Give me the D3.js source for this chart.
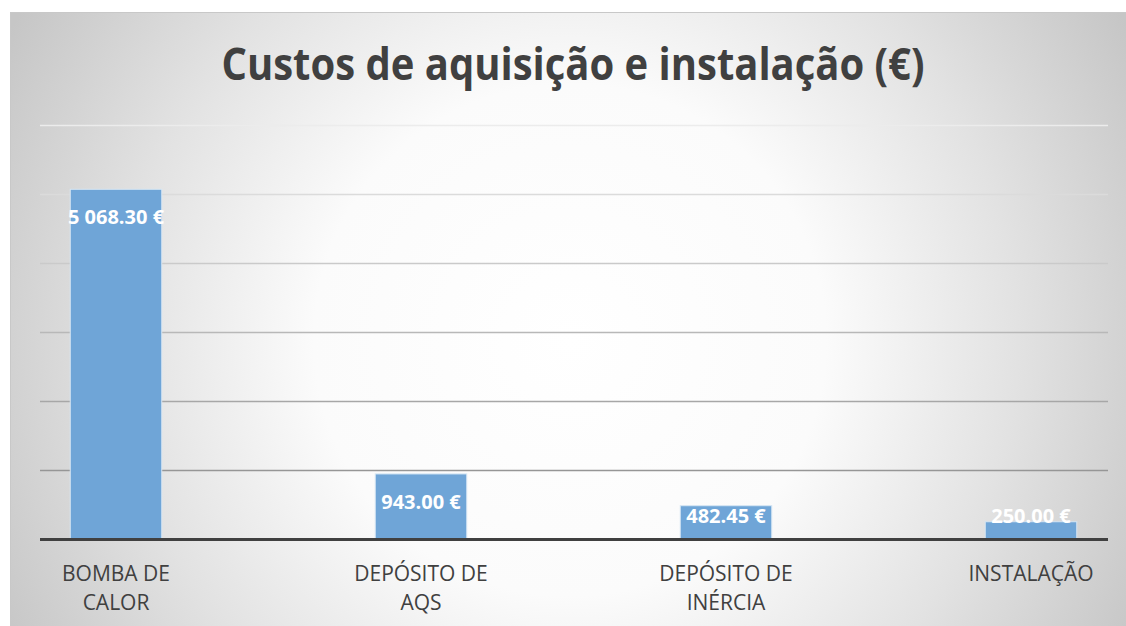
<!DOCTYPE html>
<html>
<head>
<meta charset="utf-8">
<script src="https://cdn.jsdelivr.net/npm/d3@7"></script>
<style>
  body { margin: 0; background: #fff; }
  svg { display: block; }
</style>
</head>
<body>
<svg id="chart" width="1126" height="626"></svg>
<script>
// dados
var categories = ["BOMBA DE CALOR", "DEPÓSITO DE AQS", "DEPÓSITO DE INÉRCIA", "INSTALAÇÃO"];
var tickLines = [["BOMBA DE", "CALOR"], ["DEPÓSITO DE", "AQS"], ["DEPÓSITO DE", "INÉRCIA"], ["INSTALAÇÃO"]];
var values = [5068.30, 943.00, 482.45, 250.00];
var labels = ["5 068.30 €", "943.00 €", "482.45 €", "250.00 €"];
var yTicks = [1000, 2000, 3000, 4000, 5000, 6000];

var width = 1126, height = 626;
var svg = d3.select("#chart");

var defs = svg.append("defs");
var bg = defs.append("radialGradient")
    .attr("id", "bg")
    .attr("gradientUnits", "userSpaceOnUse")
    .attr("cx", 570).attr("cy", 340).attr("r", 640);
bg.append("stop").attr("offset", "0%").attr("stop-color", "#ffffff");
bg.append("stop").attr("offset", "40%").attr("stop-color", "#fbfbfb");
bg.append("stop").attr("offset", "70%").attr("stop-color", "#e2e2e2");
bg.append("stop").attr("offset", "100%").attr("stop-color", "#c6c6c6");

// fundo do gráfico
svg.append("rect")
    .attr("x", 10.5).attr("y", 12.5)
    .attr("width", width).attr("height", height)
    .attr("fill", "url(#bg)")
    .attr("stroke", "#c8c8c8")
    .attr("stroke-width", 1);

var plotLeft = 40, plotRight = 1108, baseY = 539, topY = 125;

var x = d3.scaleBand()
    .domain(categories)
    .range([-36.5, 1183.5])
    .paddingInner(0.7)
    .paddingOuter(0.35);

var y = d3.scaleLinear()
    .domain([0, 6000])
    .range([baseY, topY]);

var gridColor = d3.scaleLinear()
    .domain([1000, 6000])
    .range(["#969696", "#ececec"]);

// linhas de grelha
svg.append("g")
    .attr("transform", `translate(${plotLeft},0)`)
    .call(d3.axisLeft(y).tickValues(yTicks).tickSize(-(plotRight - plotLeft)).tickFormat(""))
    .call(g => g.select(".domain").remove())
    .call(g => g.selectAll(".tick line")
        .attr("stroke", d => gridColor(d))
        .attr("stroke-width", 1.6));

// barras
svg.append("g")
    .selectAll("rect")
    .data(values)
    .join("rect")
    .attr("x", (d, i) => x(categories[i]))
    .attr("y", d => y(d))
    .attr("width", x.bandwidth())
    .attr("height", d => y(0) - y(d))
    .attr("fill", "#6fa5d7")
    .attr("stroke", "#d6e6f4")
    .attr("stroke-width", 1);

// eixo
svg.append("line")
    .attr("x1", plotLeft).attr("x2", plotRight)
    .attr("y1", baseY + 0.5).attr("y2", baseY + 0.5)
    .attr("stroke", "#404040")
    .attr("stroke-width", 3);

// rótulos de dados
svg.append("g")
    .selectAll("text")
    .data(values)
    .join("text")
    .attr("x", (d, i) => x(categories[i]) + x.bandwidth() / 2)
    .attr("y", d => Math.min(y(d) + 35, baseY - 16))
    .attr("text-anchor", "middle")
    .attr("font-family", "Open Sans, sans-serif")
    .attr("font-weight", "bold")
    .attr("font-size", 20)
    .attr("fill", "#ffffff")
    .text((d, i) => labels[i]);

// rótulos das categorias
var cats = svg.append("g")
    .selectAll("text")
    .data(categories)
    .join("text")
    .attr("text-anchor", "middle")
    .attr("font-family", "Open Sans, sans-serif")
    .attr("font-size", 21)
    .attr("fill", "#404040")
    .attr("transform", d => `translate(${x(d) + x.bandwidth() / 2},581)`);

cats.selectAll("tspan")
    .data((d, i) => tickLines[i])
    .join("tspan")
    .attr("x", 0)
    .attr("dy", (d, i) => i === 0 ? 0 : 29)
    .text(d => d);

// título
svg.append("text")
    .attr("x", 573)
    .attr("y", 80)
    .attr("text-anchor", "middle")
    .attr("font-family", "Open Sans, sans-serif")
    .attr("font-weight", "bold")
    .attr("font-size", 45)
    .attr("fill", "#404040")
    .attr("textLength", 703)
    .attr("lengthAdjust", "spacingAndGlyphs")
    .text("Custos de aquisição e instalação (€)");
</script>
</body>
</html>
